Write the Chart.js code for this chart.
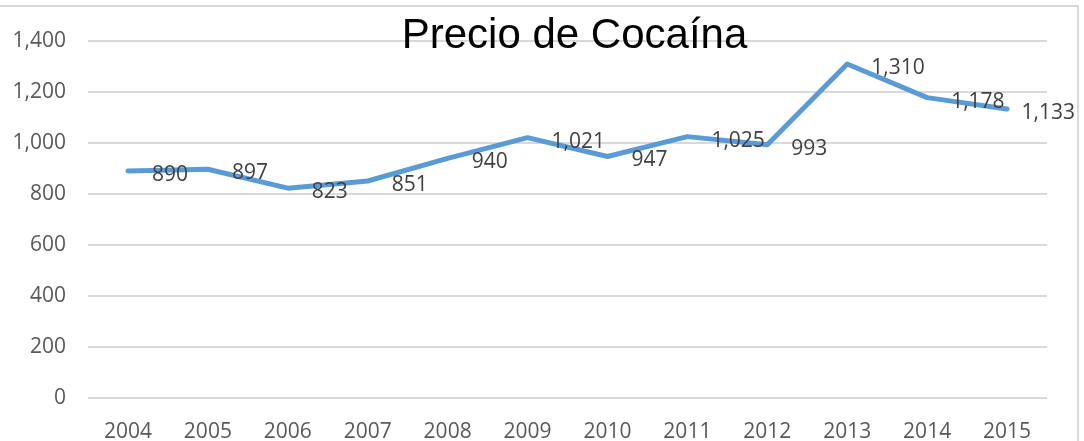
<!DOCTYPE html>
<html>
<head>
<meta charset="utf-8">
<script src="https://cdn.jsdelivr.net/npm/chart.js@4"></script>
<style>
  html, body { margin: 0; padding: 0; background: #fff; }
  #wrap { position: relative; width: 1084px; height: 441px; overflow: hidden; }
  #frame { position: absolute; left: -10px; top: 5px; width: 1089px; height: 460px;
           border-top: 2px solid #d9d9d9; border-right: 2px solid #d9d9d9; box-sizing: border-box; }
  canvas { position: absolute; left: 0; top: 0; }
</style>
</head>
<body>
<div id="wrap">
  <div id="frame"></div>
  <canvas id="c" width="1084" height="441"></canvas>
</div>
<script>
const titleText = "Precio de Cocaína";
const years = ["2004","2005","2006","2007","2008","2009","2010","2011","2012","2013","2014","2015"];
const prices = [890, 897, 823, 851, 940, 1021, 947, 1025, 993, 1310, 1178, 1133];
const yTicks = [0, 200, 400, 600, 800, 1000, 1200, 1400];

const fmt = v => v.toLocaleString('en-US');

const labelPlugin = {
  id: 'pointLabels',
  afterDatasetsDraw(chart) {
    const ctx = chart.ctx;
    const meta = chart.getDatasetMeta(0);
    ctx.save();
    ctx.font = '21px "Open Sans", sans-serif';
    ctx.fillStyle = '#404040';
    ctx.textAlign = 'left';
    ctx.textBaseline = 'middle';
    meta.data.forEach((pt, i) => {
      const txt = fmt(prices[i]);
      const w = ctx.measureText(txt).width;
      let x = pt.x + 24;
      const maxRight = chart.width - 9;
      if (x + w > maxRight) x = maxRight - w;
      ctx.fillText(txt, x, pt.y + 4);
    });
    ctx.restore();
  }
};

const titlePlugin = {
  id: 'overlayTitle',
  afterDraw(chart) {
    const ctx = chart.ctx;
    const a = chart.chartArea;
    ctx.save();
    ctx.font = '42px "Liberation Sans", sans-serif';
    ctx.fillStyle = '#000';
    ctx.textAlign = 'center';
    ctx.textBaseline = 'alphabetic';
    ctx.fillText(titleText, (a.left + a.right) / 2 + 7, a.top + 7);
    ctx.restore();
  }
};

new Chart(document.getElementById('c'), {
  type: 'line',
  data: {
    labels: years,
    datasets: [{
      data: prices,
      borderColor: '#5b9bd5',
      borderWidth: 5,
      pointRadius: 0,
      tension: 0,
      borderCapStyle: 'round',
      borderJoinStyle: 'round'
    }]
  },
  options: {
    responsive: false,
    animation: false,
    devicePixelRatio: 1,
    layout: { padding: { left: 0, right: 37, top: 41, bottom: 0 } },
    plugins: { legend: { display: false }, tooltip: { enabled: false }, title: { display: false } },
    scales: {
      x: {
        offset: true,
        grid: { display: false, drawTicks: false },
        border: { display: false },
        ticks: { color: '#595959', font: { family: '"Open Sans", sans-serif', size: 21 }, padding: 21, maxRotation: 0 },
        afterFit: s => { s.height = 43; }
      },
      y: {
        min: 0, max: 1400,
        afterBuildTicks: s => { s.ticks = yTicks.map(v => ({ value: v })); },
        grid: { color: '#d9d9d9', lineWidth: 2, drawTicks: false },
        border: { display: false },
        ticks: { color: '#595959', font: { family: '"Open Sans", sans-serif', size: 21 }, padding: 22,
                 callback: v => fmt(v) },
        afterFit: s => { s.width = 88; }
      }
    }
  },
  plugins: [labelPlugin, titlePlugin]
});
</script>
</body>
</html>
